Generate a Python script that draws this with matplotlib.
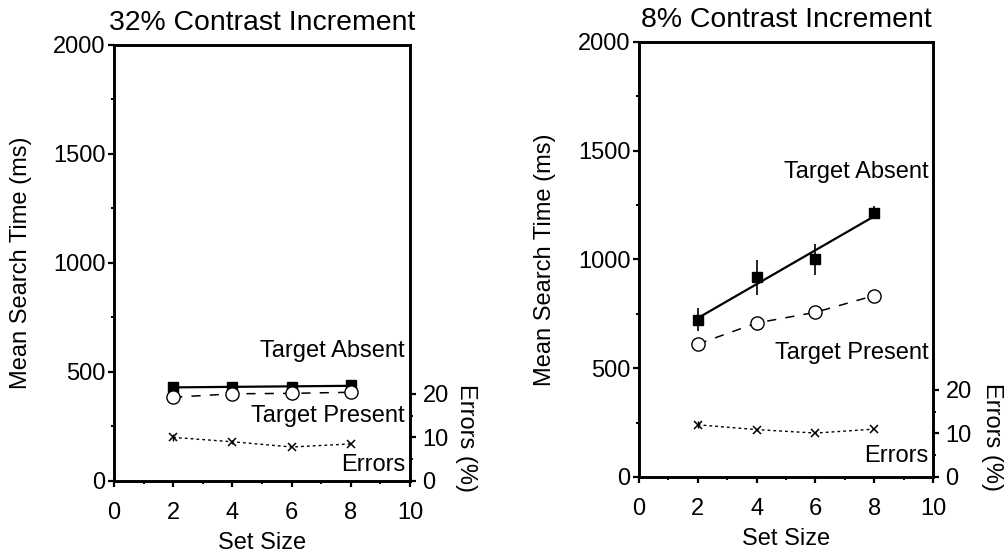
import numpy as np
import matplotlib
matplotlib.use("Agg")
import matplotlib.pyplot as plt
from matplotlib.ticker import MultipleLocator, FixedLocator

plt.rcParams['font.family'] = ['Liberation Sans', 'DejaVu Sans']
plt.rcParams['font.size'] = 17

# Set sizes shared by both conditions
set_size = [2, 4, 6, 8]

# 32% contrast increment
absent_32 = [432, 430, 430, 440]
present_32 = [384, 400, 402, 407]
errors_32 = [10.0, 9.0, 7.8, 8.5]
errors_32_sem = [0.8, 0.5, 0.0, 0.0]

# 8% contrast increment
absent_8 = [723, 919, 1000, 1216]
absent_8_sem = [54, 80, 73, 28]
present_8 = [611, 708, 757, 834]
errors_8 = [12.0, 10.9, 10.1, 11.0]
errors_8_sem = [0.8, 0.4, 0.0, 0.0]

titles = ["32% Contrast Increment", "8% Contrast Increment"]
x_ticks = [0, 2, 4, 6, 8, 10]
rt_ticks = [0, 500, 1000, 1500, 2000]
err_ticks = [0, 10, 20]

fig = plt.figure(figsize=(10.05, 5.56), dpi=100)

panels = [
    dict(rect=[0.1134, 0.1349, 0.2945, 0.7842], absent=absent_32, sem=None,
         present=present_32, errors=errors_32, err_sem=errors_32_sem,
         title=titles[0],
         lbl=dict(absent=0.298, present=0.149, errors=0.037, xr=0.983),
         ylab_x=-0.277, errlab=(1.19, 0.099)),
    dict(rect=[0.6358, 0.1421, 0.2925, 0.7824], absent=absent_8, sem=absent_8_sem,
         present=present_8, errors=errors_8, err_sem=errors_8_sem,
         title=titles[1],
         lbl=dict(absent=0.701, present=0.285, errors=0.048, xr=0.986),
         ylab_x=-0.282, errlab=(1.20, 0.092)),
]

for p in panels:
    ax = fig.add_axes(p["rect"])
    x = np.array(set_size, dtype=float)

    # Target absent: mean times with least-squares fit line
    ya = np.array(p["absent"], dtype=float)
    slope, icpt = np.polyfit(x, ya, 1)
    ax.plot(x, icpt + slope * x, color="black", lw=1.6, zorder=2)
    if p["sem"] is not None:
        ax.errorbar(x, ya, yerr=p["sem"], fmt="none", ecolor="black",
                    elinewidth=1.2, capsize=0, zorder=2)
    ax.plot(x, ya, ls="none", marker="s", ms=7, color="black", zorder=3)

    # Target present: dashed line through the means
    ax.plot(x, p["present"], color="black", lw=1.1, dashes=(6, 6),
            marker="o", ms=9.5, mfc="white", mec="black", mew=1.0, zorder=3)

    ax.set_xlim(0, 10)
    ax.set_ylim(0, 2000)
    ax.xaxis.set_major_locator(FixedLocator(x_ticks))
    ax.xaxis.set_minor_locator(MultipleLocator(1))
    ax.yaxis.set_major_locator(FixedLocator(rt_ticks))
    ax.yaxis.set_minor_locator(MultipleLocator(250))
    ax.tick_params(which="major", direction="out", length=4, width=1.6)
    ax.tick_params(which="minor", direction="out", length=2, width=1.4)
    ax.tick_params(axis="x", which="major", pad=11)
    ax.tick_params(axis="y", which="major", pad=2)
    ax.tick_params(axis="y", which="both", right=False)
    for s in ax.spines.values():
        s.set_linewidth(1.9)

    ax.set_title(p["title"], pad=11)
    ax.set_xlabel("Set Size", labelpad=6)
    ax.set_ylabel("Mean Search Time (ms)")
    ax.yaxis.set_label_coords(p["ylab_x"], 0.5)

    # Error rates on a secondary scale
    ax2 = ax.twinx()
    ax2.set_ylim(0, 100)
    ax2.errorbar(x, p["errors"], yerr=p["err_sem"], fmt="none", ecolor="black",
                 elinewidth=1.0, capsize=0, zorder=2)
    ax2.plot(x, p["errors"], color="black", lw=1.0, dashes=(2, 2.2),
             marker="x", ms=6, mew=1.1, zorder=3)
    ax2.yaxis.set_major_locator(FixedLocator(err_ticks))
    ax2.yaxis.set_minor_locator(FixedLocator([5, 15]))
    ax2.tick_params(which="major", direction="out", length=4, width=1.6, pad=5)
    ax2.tick_params(which="minor", direction="out", length=2, width=1.4)
    for s in ax2.spines.values():
        s.set_linewidth(1.9)
    ax2.set_ylabel("Errors (%)", rotation=-90, va="center")
    ax2.yaxis.set_label_coords(*p["errlab"])

    lb = p["lbl"]
    ax.text(lb["xr"], lb["absent"], "Target Absent", transform=ax.transAxes,
            ha="right", va="center")
    ax.text(lb["xr"], lb["present"], "Target Present", transform=ax.transAxes,
            ha="right", va="center")
    ax.text(lb["xr"], lb["errors"], "Errors", transform=ax.transAxes,
            ha="right", va="center")

fig.savefig("out.png", dpi=100)
